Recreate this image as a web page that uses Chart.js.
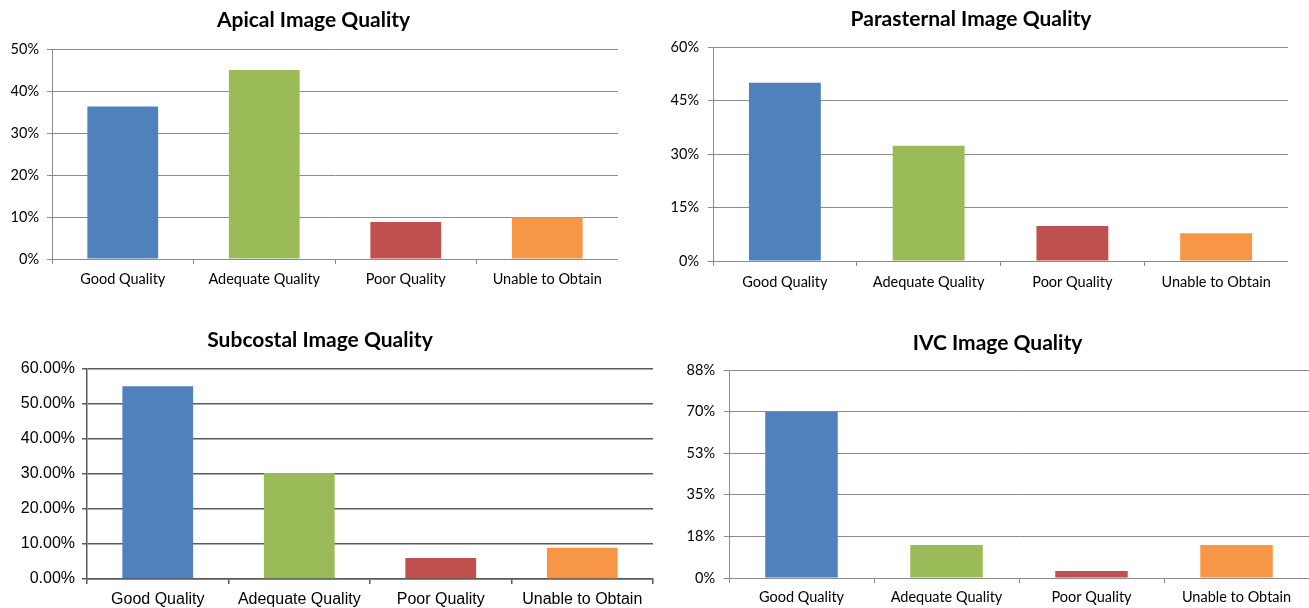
<!DOCTYPE html>
<html>
<head>
<meta charset="utf-8">
<script src="https://cdn.jsdelivr.net/npm/chart.js@4.4.1/dist/chart.umd.min.js"></script>
<style>
  body { margin: 0; background: #fff; width: 1309px; height: 608px; overflow: hidden; position: relative; }
  .box { position: absolute; }
  #subWrap { position: absolute; left: 0; top: 0; width: 654px; height: 608px; overflow: hidden; }
</style>
</head>
<body>
<canvas id="apical" class="box"></canvas>
<canvas id="parasternal" class="box"></canvas>
<div id="subWrap"><canvas id="subcostal" class="box"></canvas></div>
<canvas id="ivc" class="box"></canvas>
<script>
var categories = ["Good Quality", "Adequate Quality", "Poor Quality", "Unable to Obtain"];
var barColors = ["#4F81BD", "#9BBB59", "#C0504D", "#F79646"];

var apicalValues = [36.3, 45.0, 8.8, 9.9];
var parasternalValues = [50.0, 32.3, 9.8, 7.8];
var subcostalValues = [55.1, 30.3, 6.0, 8.9];
var ivcValues = [69.8, 13.9, 2.9, 13.9];

var apicalTicks = ["0%", "10%", "20%", "30%", "40%", "50%"];
var parasternalTicks = ["0%", "15%", "30%", "45%", "60%"];
var subcostalTicks = ["0.00%", "10.00%", "20.00%", "30.00%", "40.00%", "50.00%", "60.00%"];
var ivcTicks = ["0%", "18%", "35%", "53%", "70%", "88%"];

Chart.defaults.animation = false;

function makeChart(id, o) {
  var cv = document.getElementById(id);
  cv.width = o.w;
  cv.height = o.h;
  cv.style.left = o.left + "px";
  cv.style.top = o.top + "px";

  return new Chart(cv, {
    type: "bar",
    data: {
      labels: categories,
      datasets: [{
        data: o.values,
        backgroundColor: barColors,
        categoryPercentage: 1,
        barPercentage: 0.5
      }]
    },
    options: {
      responsive: false,
      maintainAspectRatio: false,
      // left padding only nudges the centred title, the axis width is forced below
      layout: { padding: { left: o.padLeft, right: o.padRight, top: 0, bottom: 0 } },
      plugins: {
        legend: { display: false },
        tooltip: { enabled: false },
        title: {
          display: true,
          text: o.title,
          color: "#000",
          font: { family: "Lato", size: 21, weight: "bold", lineHeight: 1.2 },
          padding: { top: o.titleTop, bottom: o.titleBottom }
        }
      },
      scales: {
        x: {
          afterFit: function (s) { s.height = o.xH; },
          grid: { offset: true, drawOnChartArea: false, drawTicks: true, tickLength: 5, color: o.gridColor, lineWidth: o.gridWidth },
          border: { display: true, color: o.gridColor, width: o.gridWidth },
          ticks: { color: "#000", padding: o.xPad, maxRotation: 0, font: { family: o.font, size: o.fontSize } }
        },
        y: {
          min: 0,
          max: o.max,
          afterFit: function (s) { s.width = o.yW; },
          grid: { drawTicks: true, tickLength: 5, color: o.gridColor, lineWidth: o.gridWidth },
          border: { display: true, color: o.gridColor, width: o.gridWidth },
          ticks: {
            stepSize: o.step,
            color: "#000",
            padding: o.yPad,
            font: { family: o.font, size: o.fontSize },
            callback: function (v, i) { return o.tickLabels[i]; }
          }
        }
      }
    }
  });
}

makeChart("apical", {
  title: "Apical Image Quality", values: apicalValues, tickLabels: apicalTicks,
  max: 50, step: 10,
  left: 0, top: 0, w: 618, h: 294, yW: 43, xH: 35, padLeft: 9, padRight: 0,
  titleTop: 7.4, titleBottom: 16.4,
  font: "Lato", fontSize: 14.5, xPad: 7, yPad: 8,
  gridColor: "#8c8c8c", gridWidth: 1
});

makeChart("parasternal", {
  title: "Parasternal Image Quality", values: parasternalValues, tickLabels: parasternalTicks,
  max: 60, step: 15,
  left: 650, top: 0, w: 638, h: 296, yW: 59, xH: 35, padLeft: 4, padRight: 0,
  titleTop: 6.4, titleBottom: 15.4,
  font: "Lato", fontSize: 14.5, xPad: 8, yPad: 9,
  gridColor: "#8c8c8c", gridWidth: 1
});

makeChart("subcostal", {
  title: "Subcostal Image Quality", values: subcostalValues, tickLabels: subcostalTicks,
  max: 60, step: 10,
  left: -15, top: 310, w: 670, h: 298, yW: 100, xH: 29, padLeft: 2, padRight: 2,
  titleTop: 17.4, titleBottom: 16.4,
  font: "Liberation Sans", fontSize: 16, xPad: 6, yPad: 7,
  gridColor: "#5a5a5a", gridWidth: 1.5
});

makeChart("ivc", {
  title: "IVC Image Quality", values: ivcValues, tickLabels: ivcTicks,
  max: 87.5, step: 17.5,
  left: 686, top: 310, w: 623, h: 298, yW: 43, xH: 30, padLeft: 0, padRight: 0,
  titleTop: 20.4, titleBottom: 14.4,
  font: "Lato", fontSize: 14.5, xPad: 6, yPad: 9,
  gridColor: "#8c8c8c", gridWidth: 1
});
</script>
</body>
</html>
